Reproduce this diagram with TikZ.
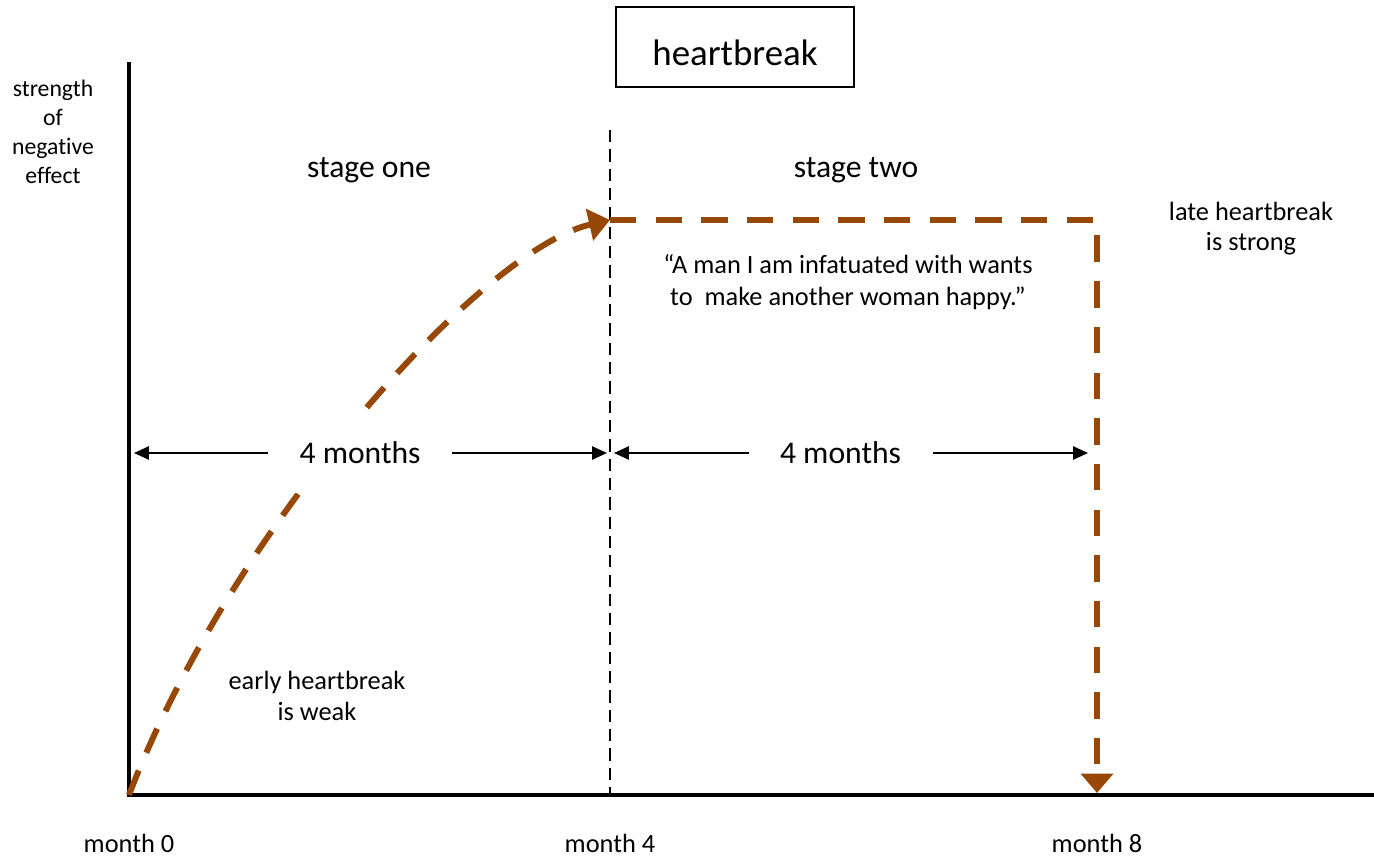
\documentclass[tikz,border=0pt]{standalone}
\usepackage{fontspec}
\setmainfont{Carlito}[Ligatures=NoCommon]
\usepackage{xcolor}
\usetikzlibrary{arrows.meta, positioning}
\definecolor{HeartBrown}{HTML}{974806}

\begin{document}
\begin{tikzpicture}[x=0.02cm, y=-0.02cm,
    every node/.style={font=\fontsize{15}{18}\selectfont, align=center},
    axisline/.style={line width=2.3pt, line join=miter},
    hb/.style={draw=HeartBrown, line width=3.4pt, dash pattern=on 15pt off 11pt},
    monthspan/.style={line width=1.1pt,
      {Triangle[length=8.5pt,width=7.5pt]}-{Triangle[length=8.5pt,width=7.5pt]}},
    spanlbl/.style={fill=white, minimum width=3.68cm, minimum height=1.6cm,
      font=\fontsize{18}{21}\selectfont, pos=0.478},
    stage/.style={font=\fontsize{18}{21}\selectfont},
    titlebox/.style={draw, line width=1.1pt, minimum width=4.76cm,
      minimum height=1.6cm, font=\fontsize{21}{25}\selectfont}
  ]
    \useasboundingbox (0,0) rectangle (1374,858);

    % axes and stage divider
    \coordinate (top) at (129,62);
    \coordinate (o) at (129,795);
    \coordinate (xend) at (1374,795);
    \coordinate (divtop) at (610,130);
    \coordinate (m4) at (610,795);
    \coordinate (m8) at (1097,795);
    \coordinate (peak) at (610,220);
    \coordinate (corner) at (1097,220);
    \coordinate (floor) at (1097,793);
    \draw[axisline] (top) -- (o) -- (xend);
    \draw[line width=1.1pt, dash pattern=on 7pt off 4pt] (divtop) -- (m4);

    % heartbreak curve
    \draw[hb, -{Triangle[length=12pt,width=18pt]}] (o) .. controls (230,530) and (480,250) .. (peak);
    \draw[hb, -{Triangle[length=11pt,width=18pt]}] (peak) -- (corner) -- (floor);

    % spans of four months
    \coordinate (s1l) at (134,453);
    \coordinate (s1r) at (607,453);
    \coordinate (s2l) at (614,453);
    \coordinate (s2r) at (1088,453);
    \draw[monthspan] (s1l) -- node[spanlbl] (span1) {4 months} (s1r);
    \draw[monthspan] (s2l) -- node[spanlbl] (span2) {4 months} (s2r);

    \node[titlebox] (title) at (735,47) {\raisebox{-0.12cm}[\height][0pt]{heartbreak}};
    \node[font=\fontsize{13.5}{16.4}\selectfont] (ylabel) at (53,132) {strength\\of\\negative\\effect};
    \node[stage] (stage1) at (369,170) {stage one};
    \node[stage] (stage2) at (856,170) {stage two};
    \node (quote) at (848,282) {“A man I am infatuated with wants\\to\ \ make another woman happy.”};
    \node[font=\fontsize{15}{17}\selectfont] (late) at (1251,229) {late heartbreak\\is strong};
    \node (early) at (317,696) {early heartbreak\\is weak};
    \node[below=0.66cm of o] (month0) {month 0};
    \node[below=0.66cm of m4] (month4) {month 4};
    \node[below=0.66cm of m8] (month8) {month 8};
  \end{tikzpicture}
\end{document}
